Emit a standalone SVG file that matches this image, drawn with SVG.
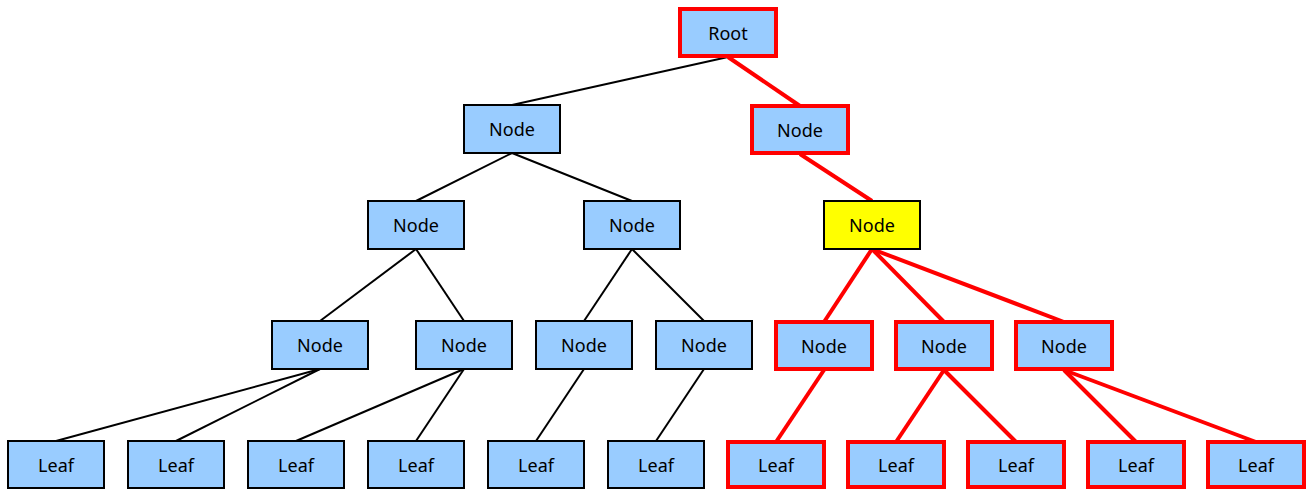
<svg xmlns="http://www.w3.org/2000/svg" width="1310" height="489" viewBox="0 0 1310 489">
<style>
.n{fill:#99ccff;stroke:#000;stroke-width:2}
.r{fill:#99ccff;stroke:#ff0000;stroke-width:4}
.y{fill:#ffff00;stroke:#000;stroke-width:2}
.t{font-family:"Noto Sans","Open Sans",sans-serif;font-size:18px;fill:#000;text-anchor:middle}
.cb{stroke:#000;stroke-width:2;fill:none}
.cr{stroke:#ff0000;stroke-width:4;fill:none}
</style>
<rect width="1310" height="489" fill="#fff"/>
<g id="connectors">
<line class="cb" x1="728" y1="57" x2="512" y2="105"/>
<line class="cb" x1="512" y1="153" x2="416" y2="201"/>
<line class="cb" x1="512" y1="153" x2="632" y2="201"/>
<line class="cb" x1="416" y1="249" x2="320" y2="321"/>
<line class="cb" x1="416" y1="249" x2="464" y2="321"/>
<line class="cb" x1="632" y1="249" x2="584" y2="321"/>
<line class="cb" x1="632" y1="249" x2="704" y2="321"/>
<line class="cb" x1="320" y1="369" x2="56" y2="441"/>
<line class="cb" x1="320" y1="369" x2="176" y2="441"/>
<line class="cb" x1="464" y1="369" x2="296" y2="441"/>
<line class="cb" x1="464" y1="369" x2="416" y2="441"/>
<line class="cb" x1="584" y1="369" x2="536" y2="441"/>
<line class="cb" x1="704" y1="369" x2="656" y2="441"/>
<line class="cr" x1="728" y1="57" x2="800" y2="106"/>
<line class="cr" x1="800" y1="154" x2="872" y2="201"/>
<line class="cr" x1="872" y1="249" x2="824" y2="322"/>
<line class="cr" x1="872" y1="249" x2="944" y2="322"/>
<line class="cr" x1="872" y1="249" x2="1064" y2="322"/>
<line class="cr" x1="824" y1="370" x2="776" y2="442"/>
<line class="cr" x1="944" y1="370" x2="896" y2="442"/>
<line class="cr" x1="944" y1="370" x2="1016" y2="442"/>
<line class="cr" x1="1064" y1="370" x2="1136" y2="442"/>
<line class="cr" x1="1064" y1="370" x2="1256" y2="442"/>
</g>
<g id="root"><rect class="r" x="680" y="9" width="96" height="47"/><text class="t" x="728" y="40">Root</text></g>
<g id="n1a"><rect class="n" x="464" y="105" width="96" height="48"/><text class="t" x="512" y="136">Node</text></g>
<g id="n1b"><rect class="r" x="752" y="106" width="96" height="47"/><text class="t" x="800" y="137">Node</text></g>
<g id="n2a"><rect class="n" x="368" y="201" width="96" height="48"/><text class="t" x="416" y="232">Node</text></g>
<g id="n2b"><rect class="n" x="584" y="201" width="96" height="48"/><text class="t" x="632" y="232">Node</text></g>
<g id="n2c"><rect class="y" x="824" y="201" width="96" height="48"/><text class="t" x="872" y="232">Node</text></g>
<g id="n3a"><rect class="n" x="272" y="321" width="96" height="48"/><text class="t" x="320" y="352">Node</text></g>
<g id="n3b"><rect class="n" x="416" y="321" width="96" height="48"/><text class="t" x="464" y="352">Node</text></g>
<g id="n3c"><rect class="n" x="536" y="321" width="96" height="48"/><text class="t" x="584" y="352">Node</text></g>
<g id="n3d"><rect class="n" x="656" y="321" width="96" height="48"/><text class="t" x="704" y="352">Node</text></g>
<g id="n3e"><rect class="r" x="776" y="322" width="96" height="47"/><text class="t" x="824" y="353">Node</text></g>
<g id="n3f"><rect class="r" x="896" y="322" width="96" height="47"/><text class="t" x="944" y="353">Node</text></g>
<g id="n3g"><rect class="r" x="1016" y="322" width="96" height="47"/><text class="t" x="1064" y="353">Node</text></g>
<g id="l1"><rect class="n" x="8" y="441" width="96" height="47"/><text class="t" x="56" y="472">Leaf</text></g>
<g id="l2"><rect class="n" x="128" y="441" width="96" height="47"/><text class="t" x="176" y="472">Leaf</text></g>
<g id="l3"><rect class="n" x="248" y="441" width="96" height="47"/><text class="t" x="296" y="472">Leaf</text></g>
<g id="l4"><rect class="n" x="368" y="441" width="96" height="47"/><text class="t" x="416" y="472">Leaf</text></g>
<g id="l5"><rect class="n" x="488" y="441" width="96" height="47"/><text class="t" x="536" y="472">Leaf</text></g>
<g id="l6"><rect class="n" x="608" y="441" width="96" height="47"/><text class="t" x="656" y="472">Leaf</text></g>
<g id="l7"><rect class="r" x="728" y="442" width="96" height="45"/><text class="t" x="776" y="472">Leaf</text></g>
<g id="l8"><rect class="r" x="848" y="442" width="96" height="45"/><text class="t" x="896" y="472">Leaf</text></g>
<g id="l9"><rect class="r" x="968" y="442" width="96" height="45"/><text class="t" x="1016" y="472">Leaf</text></g>
<g id="l10"><rect class="r" x="1088" y="442" width="96" height="45"/><text class="t" x="1136" y="472">Leaf</text></g>
<g id="l11"><rect class="r" x="1208" y="442" width="96" height="45"/><text class="t" x="1256" y="472">Leaf</text></g>
</svg>
